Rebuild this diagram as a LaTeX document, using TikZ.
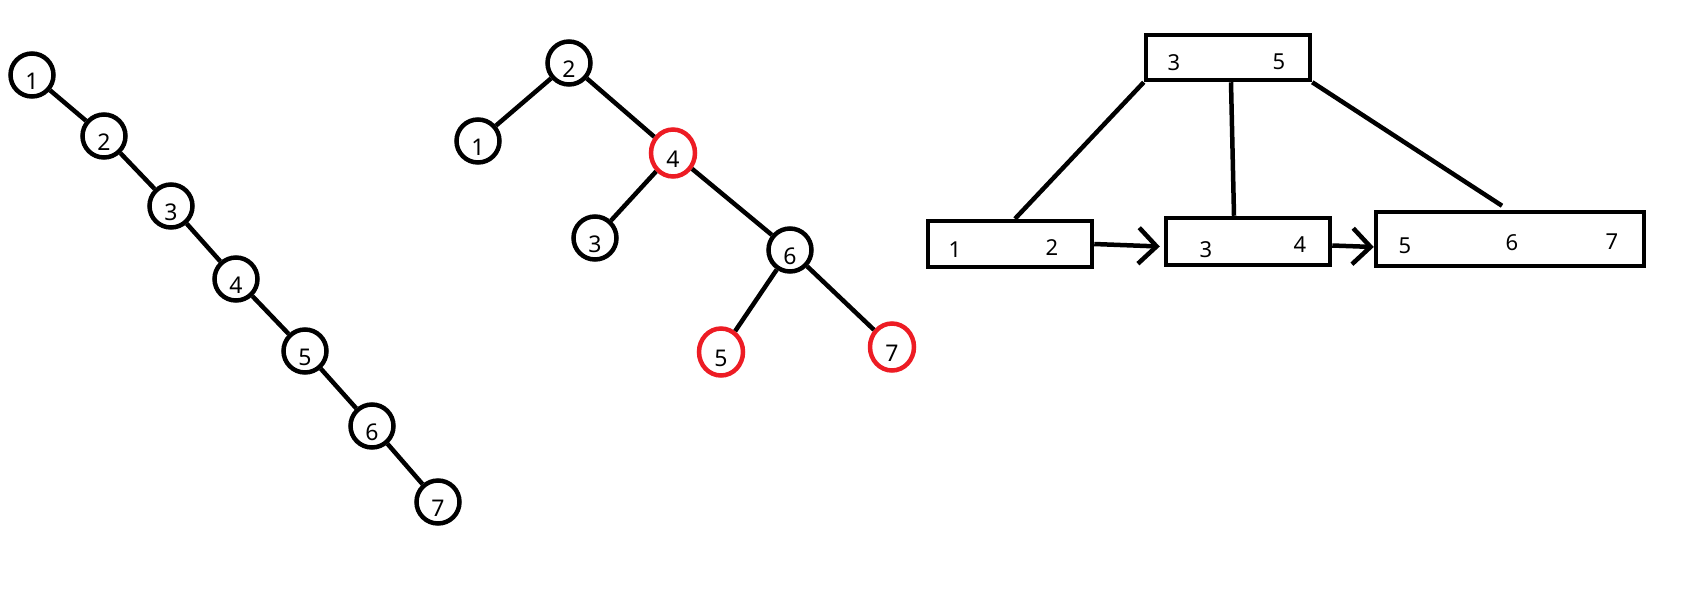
\documentclass[tikz,border=0pt]{standalone}
\usepackage{fontspec}
\setmainfont{Noto Sans}
\usetikzlibrary{arrows.meta,shapes.geometric}
\definecolor{pred}{RGB}{237,28,36}
\begin{document}
\begin{tikzpicture}[x=1pt,y=-1pt,line width=4.5pt,
  vtx/.style={circle,draw,inner sep=0pt,minimum size=43pt,font=\fontsize{23}{28}\selectfont,text height=28pt,text depth=0pt},
  rvtx/.style={ellipse,draw=pred,inner sep=0pt,minimum width=44pt,minimum height=47pt,font=\fontsize{23}{28}\selectfont,text height=28pt,text depth=0pt},
  keybox/.style={draw,rectangle,inner sep=0pt},
  num/.style={font=\fontsize{22}{26}\selectfont,inner sep=0pt},
  arr/.style={-{Straight Barb[length=18pt,width=36pt]}}]
\useasboundingbox (0,0) rectangle (1692,590);
% left chain
\node[vtx] (a1) at (32,75) {1};
\node[vtx] (a2) at (104,136) {2};
\node[vtx] (a3) at (171,206) {3};
\node[vtx] (a4) at (236,279) {4};
\node[vtx] (a5) at (305,351) {5};
\node[vtx] (a6) at (372,426) {6};
\node[vtx] (a7) at (438,502) {7};
\draw (a1) -- (a2);
\draw (a2) -- (a3);
\draw (a3) -- (a4);
\draw (a4) -- (a5);
\draw (a5) -- (a6);
\draw (a6) -- (a7);
% middle tree
\node[vtx] (t2) at (569,63) {2};
\node[vtx] (t1) at (478,141) {1};
\node[rvtx] (t4) at (673,153) {4};
\node[vtx] (t3) at (595,238) {3};
\node[vtx] (t6) at (790,250) {6};
\node[rvtx] (t5) at (721,352) {5};
\node[rvtx] (t7) at (892,347) {7};
\draw (t2) -- (t1);
\draw (t2) -- (t4);
\draw (t4) -- (t3);
\draw (t4) -- (t6);
\draw (t6) -- (t5);
\draw (t6) -- (t7);
% B+ tree
\node[keybox,minimum width=164pt,minimum height=45pt] (top) at (1228,57.5) {};
\node[keybox,minimum width=164pt,minimum height=46pt] (b12) at (1010,244) {};
\node[keybox,minimum width=164pt,minimum height=47pt] (b34) at (1248,241.5) {};
\node[keybox,minimum width=268pt,minimum height=54pt] (b567) at (1510,239) {};
\node[num] (k3) at (1174,63) {3};
\node[num] (k5) at (1279,62) {5};
\node[num] (l1) at (955,250) {1};
\node[num] (l2) at (1052,248) {2};
\node[num] (l3) at (1206,250) {3};
\node[num] (l4) at (1300,245) {4};
\node[num] (l5) at (1405,246) {5};
\node[num] (l6) at (1512,243) {6};
\node[num] (l7) at (1612,242) {7};
\draw (top.south west) -- ([xshift=5pt]b12.north);
\draw ([xshift=3pt]top.south) -- ([xshift=-14pt]b34.north);
\draw (top.south east) -- ([xshift=-8pt,yshift=4pt]b567.north);
\draw[arr] (b12.east) -- ([xshift=-4pt,yshift=-5pt]b34.west);
\draw[arr] ([yshift=-4pt]b34.east) -- ([yshift=-8pt]b567.west);
\end{tikzpicture}
\end{document}
